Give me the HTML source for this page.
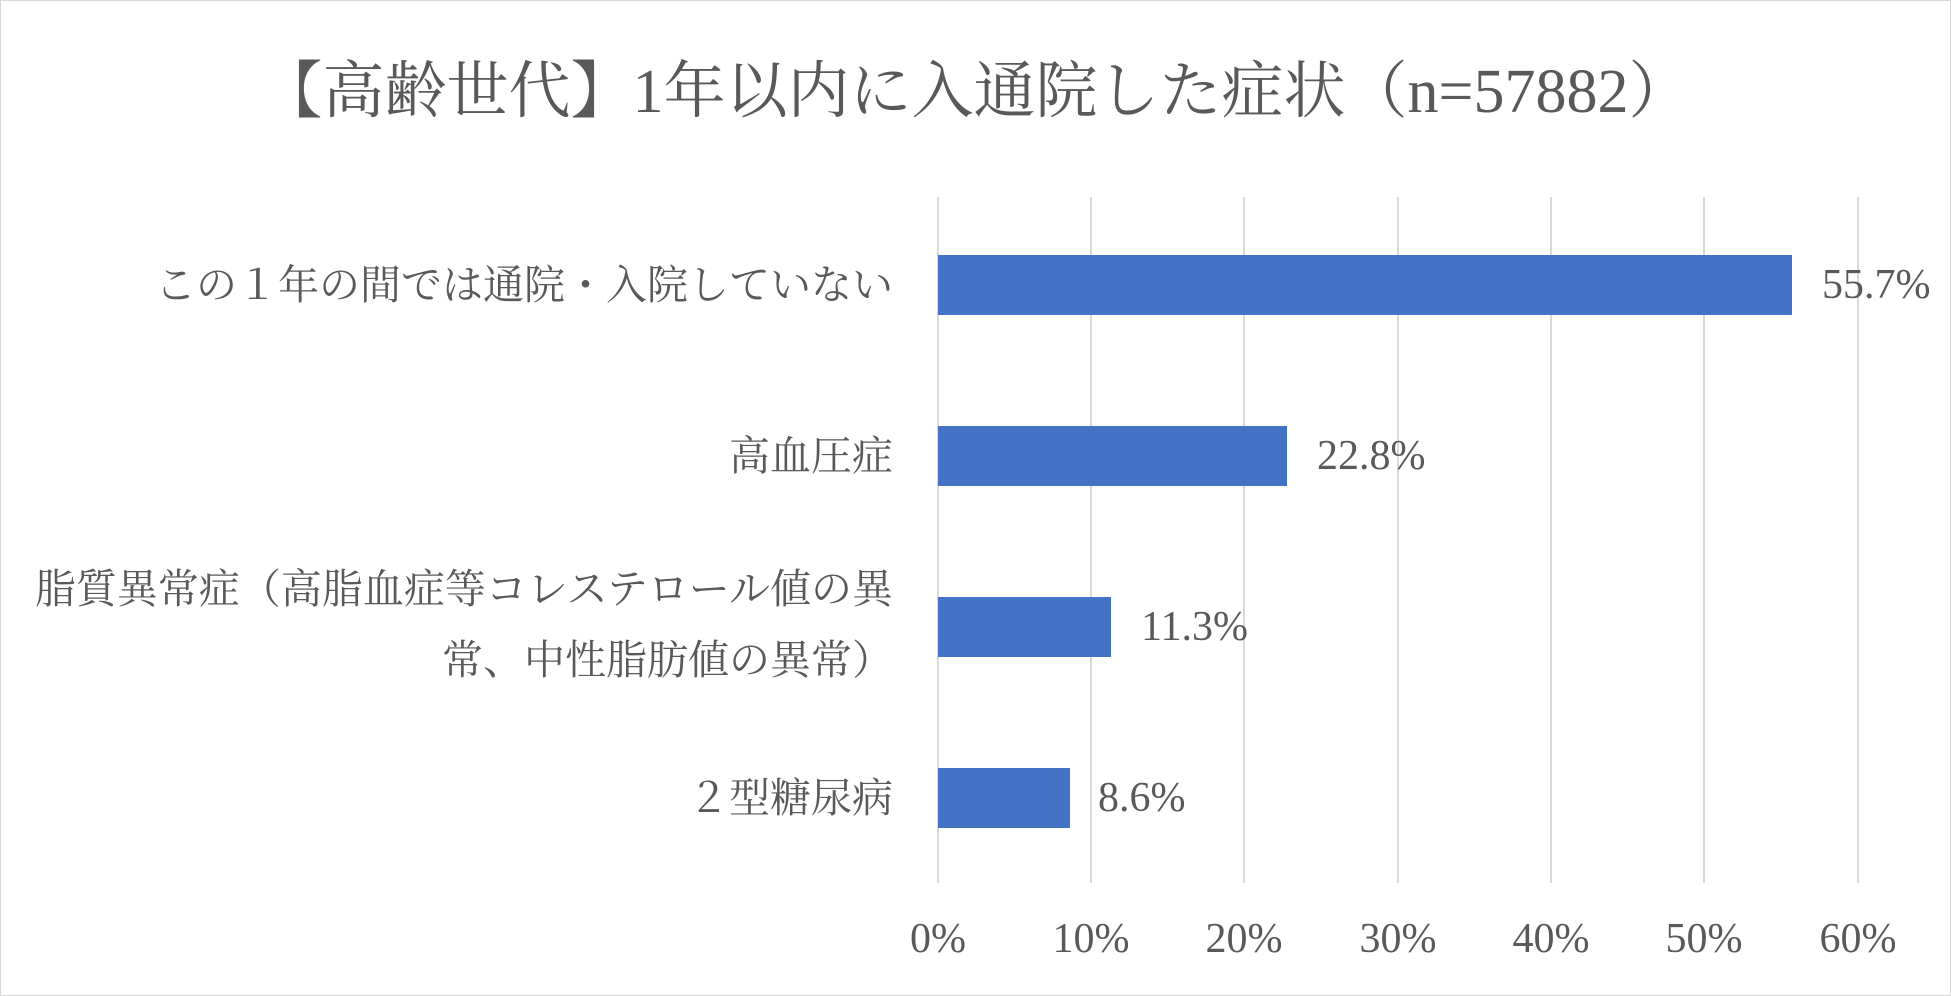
<!DOCTYPE html>
<html><head><meta charset="utf-8"><style>
html,body{margin:0;padding:0;background:#fff}
#c{position:relative;width:1951px;height:996px;overflow:hidden;font-family:"Liberation Serif","Noto Serif CJK SC",serif;color:#595959}
.b{position:absolute;left:0;top:0;width:1949px;height:994px;border:1px solid #d9d9d9}
.t{position:absolute;left:0;width:1951px;top:52px;text-align:center;font-size:62px;line-height:80px;white-space:nowrap}
.g{position:absolute;top:197px;height:686px;width:2px;background:#d9d9d9}
.bar{position:absolute;left:938px;height:60px;background:#4472C4}
.v{position:absolute;font-size:42px;line-height:50px;white-space:nowrap}
.cat{position:absolute;right:1058px;font-size:41px;line-height:50px;text-align:right;white-space:nowrap}
.x{position:absolute;top:914px;font-size:42px;line-height:50px;width:140px;text-align:center}
</style></head><body><div id="c">
<div class="b"></div>
<div class="t">【高齢世代】1年以内に入通院した症状（n=57882）</div>
<div class="g" style="left:937px"></div>
<div class="g" style="left:1090px"></div>
<div class="g" style="left:1243px"></div>
<div class="g" style="left:1397px"></div>
<div class="g" style="left:1550px"></div>
<div class="g" style="left:1703px"></div>
<div class="g" style="left:1857px"></div>
<div class="bar" style="top:255px;width:854px"></div>
<div class="bar" style="top:426px;width:349px"></div>
<div class="bar" style="top:597px;width:173px"></div>
<div class="bar" style="top:768px;width:132px"></div>
<div class="v" style="left:1822px;top:260px">55.7%</div>
<div class="v" style="left:1317px;top:431px">22.8%</div>
<div class="v" style="left:1141px;top:602px">11.3%</div>
<div class="v" style="left:1098px;top:773px">8.6%</div>
<div class="cat" style="top:260px">この１年の間では通院・入院していない</div>
<div class="cat" style="top:431px">高血圧症</div>
<div class="cat" style="top:564px">脂質異常症（高脂血症等コレステロール値の異</div>
<div class="cat" style="top:635px">常、中性脂肪値の異常）</div>
<div class="cat" style="top:773px">２型糖尿病</div>
<div class="x" style="left:868px">0%</div>
<div class="x" style="left:1021px">10%</div>
<div class="x" style="left:1174px">20%</div>
<div class="x" style="left:1328px">30%</div>
<div class="x" style="left:1481px">40%</div>
<div class="x" style="left:1634px">50%</div>
<div class="x" style="left:1788px">60%</div>
</div></body></html>
